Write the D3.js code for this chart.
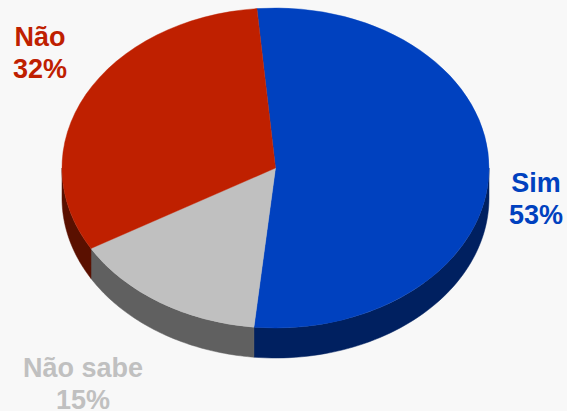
<!DOCTYPE html>
<html>
<head>
<meta charset="utf-8">
<script src="https://cdn.jsdelivr.net/npm/d3@7"></script>
<style>
  html, body { margin: 0; padding: 0; background: #f8f8f8; }
  svg { display: block; }
</style>
</head>
<body>
<script>
// chart data
const categories = ["Sim", "Não sabe", "Não"];
const values = [53, 15, 32];
const topColors = ["#0041bf", "#c0c0c0", "#bf2000"];
const sideColors = ["#002060", "#606060", "#5a1000"];

// layout
var svg_width = 567;
var svg_height = 411;
var cx = 275.5, cy = 168;
var rx = 213.5, ry = 160;
var depth = 30;
var startDeg = -5;
// label anchors (centre x, first baseline y)
const labelAnchors = [[536, 192], [83, 377], [40, 46]];

const svg = d3.select('body')
    .append('svg')
    .attr("width", svg_width)
    .attr("height", svg_height);

const pie = d3.pie()
    .sort(null)
    .startAngle(startDeg * Math.PI / 180)
    .endAngle(startDeg * Math.PI / 180 + 2 * Math.PI);

const arcs = pie(values);

// point on the ellipse for a pie angle (0 = top, clockwise)
function pt(a, dy) {
    return [cx + rx * Math.sin(a), cy - ry * Math.cos(a) + (dy || 0)];
}

// side walls: only the front half (pi/2 .. 3pi/2) is visible
const side_g = svg.append('g');
arcs.forEach((d, i) => {
    const a0 = Math.max(d.startAngle, Math.PI / 2);
    const a1 = Math.min(d.endAngle, 3 * Math.PI / 2);
    if (a1 <= a0) return;
    const n = 60;
    const top = d3.range(n + 1).map(k => pt(a0 + (a1 - a0) * k / n));
    const bottom = d3.range(n + 1).map(k => pt(a1 - (a1 - a0) * k / n, depth));
    side_g.append('path')
        .attr('d', d3.line()(top.concat(bottom)) + 'Z')
        .attr('fill', sideColors[i])
        .attr('stroke', sideColors[i])
        .attr('stroke-width', 0.5);
});

// top face, drawn as circle arcs squashed to the ellipse
const arc = d3.arc().innerRadius(0).outerRadius(rx);
svg.append('g')
    .attr('transform', `translate(${cx},${cy}) scale(1,${ry / rx})`)
    .selectAll('path')
    .data(arcs)
    .enter().append('path')
    .attr('d', arc)
    .attr('fill', (d, i) => topColors[i])
    .attr('stroke', (d, i) => topColors[i])
    .attr('stroke-width', 0.5);

// labels
const labels = svg.append('g')
    .selectAll('text')
    .data(arcs)
    .enter().append('text')
    .attr('text-anchor', 'middle')
    .attr('font-family', '"Liberation Sans", Arial, sans-serif')
    .attr('font-weight', 'bold')
    .attr('font-size', 27)
    .attr('fill', (d, i) => topColors[i]);

labels.append('tspan')
    .attr('x', (d, i) => labelAnchors[i][0])
    .attr('y', (d, i) => labelAnchors[i][1])
    .text((d, i) => categories[i]);

labels.append('tspan')
    .attr('x', (d, i) => labelAnchors[i][0])
    .attr('y', (d, i) => labelAnchors[i][1] + 32)
    .text((d, i) => `${values[i]}%`);
</script>
</body>
</html>
